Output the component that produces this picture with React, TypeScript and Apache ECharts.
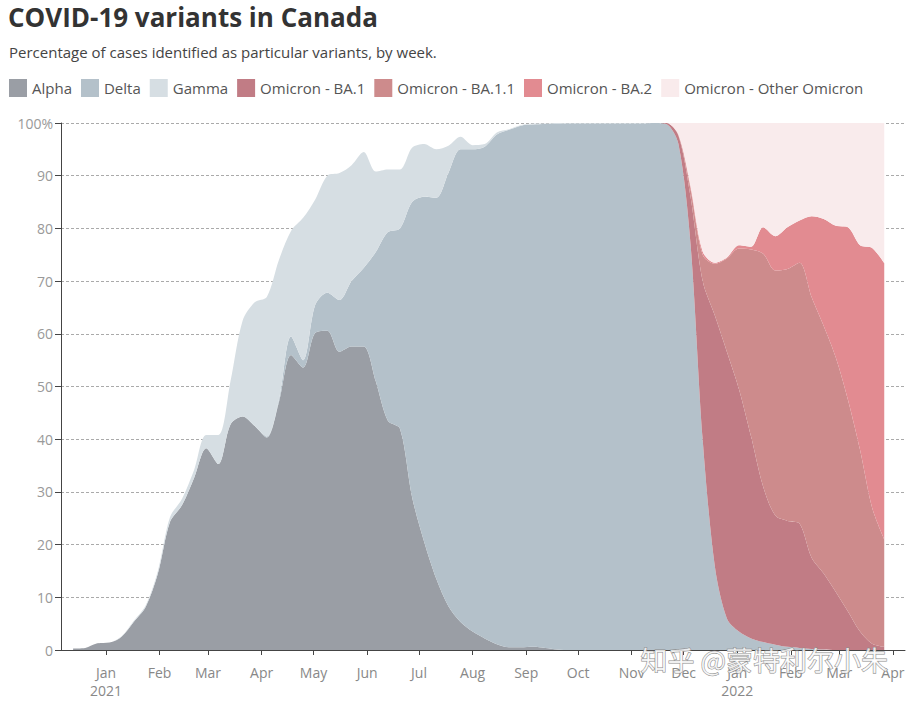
import React, { useEffect, useRef } from "react";
import * as echarts from "echarts";

const weeks: string[] = [
  "2020-12-13", "2020-12-20", "2020-12-27", "2021-01-03", "2021-01-10", "2021-01-17", "2021-01-24", "2021-01-31",
  "2021-02-07", "2021-02-14", "2021-02-21", "2021-02-28", "2021-03-07", "2021-03-14", "2021-03-21", "2021-03-28",
  "2021-04-04", "2021-04-11", "2021-04-18", "2021-04-25", "2021-05-02", "2021-05-09", "2021-05-16", "2021-05-23",
  "2021-05-30", "2021-06-06", "2021-06-13", "2021-06-20", "2021-06-27", "2021-07-04", "2021-07-11", "2021-07-18",
  "2021-07-25", "2021-08-01", "2021-08-08", "2021-08-15", "2021-08-22", "2021-08-29", "2021-09-05", "2021-09-12",
  "2021-09-19", "2021-09-26", "2021-10-03", "2021-10-10", "2021-10-17", "2021-10-24", "2021-10-31", "2021-11-07",
  "2021-11-14", "2021-11-21", "2021-11-28", "2021-12-05", "2021-12-12", "2021-12-19", "2021-12-26", "2022-01-02",
  "2022-01-09", "2022-01-16", "2022-01-23", "2022-01-30", "2022-02-06", "2022-02-13", "2022-02-20", "2022-02-27",
  "2022-03-06", "2022-03-13", "2022-03-20", "2022-03-27",
];

const alpha: number[] = [
  0.3, 0.4, 1.3, 1.4, 2.5, 5.3, 8.2, 14.5, 24.3, 27.5, 32.7, 38.3, 35.3, 42.8, 44.3, 42.5,
  40.3, 47, 56, 53.6, 60.2, 60.6, 56.6, 57.6, 57.6, 51, 43.5, 42, 29, 20.5, 13.5, 8.3,
  5.3, 3.5, 2.2, 1.1, 0.5, 0.5, 0.6, 0.4, 0.1, 0, 0, 0, 0, 0, 0, 0,
  0, 0, 0, 0, 0, 0, 0, 0, 0, 0, 0, 0, 0, 0, 0, 0,
  0, 0, 0, 0,
];

const delta: number[] = [
  0, 0, 0, 0, 0, 0, 0, 0, 0, 0, 0, 0, 0, 0, 0, 0,
  0.2, 0.5, 3.5, 1.4, 5.3, 7.2, 9.8, 12.4, 14.9, 24.5, 35.8, 38, 56, 65.5, 72.3, 82.2,
  89.7, 91.5, 93.3, 96.7, 98.2, 99, 99.1, 99.4, 99.7, 99.9, 99.9, 99.9, 99.9, 99.9, 99.9, 99.9,
  100, 99.8, 96, 77, 40, 16, 6, 3.5, 2.2, 1.5, 1, 0.6, 0.4, 0.2, 0.1, 0,
  0, 0, 0, 0,
];

const gamma: number[] = [
  0, 0, 0, 0, 0.1, 0.2, 0.3, 0.5, 0.9, 1.2, 1.5, 2.5, 5.5, 8.2, 18.2, 23.5,
  26.5, 26.5, 20, 27, 20, 22.2, 24.1, 22, 22, 15.3, 11.9, 11.2, 10.3, 10, 9.2, 5.2,
  2.4, 0.8, 0.5, 0.4, 0.1, 0.1, 0.2, 0.1, 0.2, 0.1, 0.1, 0.1, 0.1, 0.1, 0.1, 0.1,
  0, 0, 0, 0, 0, 0, 0, 0, 0, 0, 0, 0, 0, 0, 0, 0,
  0, 0, 0, 0,
];

const ba1: number[] = [
  0, 0, 0, 0, 0, 0, 0, 0, 0, 0, 0, 0, 0, 0, 0, 0,
  0, 0, 0, 0, 0, 0, 0, 0, 0, 0, 0, 0, 0, 0, 0, 0,
  0, 0, 0, 0, 0, 0, 0, 0, 0, 0, 0, 0, 0, 0, 0, 0,
  0, 0.2, 1.6, 9, 30, 47.5, 50.6, 46, 38.3, 29.5, 24.5, 23.9, 23.6, 17.3, 14.4, 11,
  7.3, 3.5, 1.2, 0.6,
];

const ba11: number[] = [
  0, 0, 0, 0, 0, 0, 0, 0, 0, 0, 0, 0, 0, 0, 0, 0,
  0, 0, 0, 0, 0, 0, 0, 0, 0, 0, 0, 0, 0, 0, 0, 0,
  0, 0, 0, 0, 0, 0, 0, 0, 0, 0, 0, 0, 0, 0, 0, 0,
  0, 0, 0.1, 1.5, 5, 9.8, 17.7, 26.7, 35.5, 44.2, 46.5, 47.8, 49.5, 49.5, 47, 44.5,
  40.2, 34.5, 25.8, 20.4,
];

const ba2: number[] = [
  0, 0, 0, 0, 0, 0, 0, 0, 0, 0, 0, 0, 0, 0, 0, 0,
  0, 0, 0, 0, 0, 0, 0, 0, 0, 0, 0, 0, 0, 0, 0, 0,
  0, 0, 0, 0, 0, 0, 0, 0, 0, 0, 0, 0, 0, 0, 0, 0,
  0, 0, 0.1, 0.5, 0.6, 0.2, 0.2, 0.6, 0.5, 5, 6.5, 7.9, 8, 15.3, 20.3, 25,
  32.7, 38.8, 49.3, 52.4,
];

const otherOmicron: number[] = [
  0, 0, 0, 0, 0, 0, 0, 0, 0, 0, 0, 0, 0, 0, 0, 0,
  0, 0, 0, 0, 0, 0, 0, 0, 0, 0, 0, 0, 0, 0, 0, 0,
  0, 0, 0, 0, 0, 0, 0, 0, 0, 0, 0, 0, 0, 0, 0, 0,
  0, 0, 2.2, 12, 24.4, 26.5, 25.5, 23.2, 23.5, 19.8, 21.5, 19.8, 18.5, 17.7, 18.2, 19.5,
  19.8, 23.2, 23.7, 26.6,
];

const seriesNames = [
  "Alpha",
  "Delta",
  "Gamma",
  "Omicron - BA.1",
  "Omicron - BA.1.1",
  "Omicron - BA.2",
  "Omicron - Other Omicron",
];
const seriesColors = ["#9a9ea5", "#b4c1ca", "#d6dee3", "#c17c85", "#cd8b8c", "#e28b91", "#f9ebec"];
const seriesValues = [alpha, delta, gamma, ba1, ba11, ba2, otherOmicron];

const monthNames = ["Jan", "Feb", "Mar", "Apr", "May", "Jun", "Jul", "Aug", "Sep", "Oct", "Nov", "Dec"];

const title = "COVID-19 variants in Canada";
const subtitle = "Percentage of cases identified as particular variants, by week.";
const watermark = "知乎 @蒙特利尔小朱";

function parseDate(s: string): number {
  const [y, m, d] = s.split("-").map(Number);
  return new Date(y, m - 1, d).getTime();
}

export default function App() {
  const ref = useRef<HTMLDivElement>(null);

  useEffect(() => {
    if (!ref.current) return;
    const chart = echarts.init(ref.current, undefined, { renderer: "svg" });
    const times = weeks.map(parseDate);
    const font = "'Open Sans', 'Noto Sans', sans-serif";

    const option: any = {
      animation: false,
      textStyle: { fontFamily: font },
      title: [
        {
          text: title,
          left: 8,
          top: 3,
          padding: 0,
          textStyle: { fontSize: 26, fontWeight: "bold", color: "#333", fontFamily: font, lineHeight: 28 },
        },
        {
          text: subtitle,
          left: 9,
          top: 44,
          padding: 0,
          textStyle: { fontSize: 15, fontWeight: "normal", color: "#444", fontFamily: font },
        },
      ],
      legend: {
        left: 9,
        top: 79,
        padding: 0,
        itemWidth: 18,
        itemHeight: 18,
        itemGap: 9,
        icon: "rect",
        selectedMode: false,
        textStyle: { fontSize: 15, color: "#555", fontFamily: font, padding: [0, 0, 0, 0] },
        data: seriesNames,
      },
      grid: { left: 61, right: 3, top: 123, bottom: 52, containLabel: false },
      xAxis: {
        type: "time",
        min: new Date(2020, 11, 6).getTime(),
        max: new Date(2022, 3, 8).getTime(),
        minInterval: 28 * 86400000,
        maxInterval: 31 * 86400000,
        splitNumber: 16,
        axisLine: { show: true, lineStyle: { color: "#444", width: 1 } },
        axisTick: { show: true, length: 5, lineStyle: { color: "#444" } },
        splitLine: { show: false },
        axisLabel: {
          color: "#888",
          fontSize: 14,
          margin: 13,
          lineHeight: 18,
          fontFamily: font,
          hideOverlap: false,
          formatter: (val: number) => {
            const d = new Date(val);
            const m = monthNames[d.getMonth()];
            return d.getMonth() === 0 ? m + "\n" + d.getFullYear() : m;
          },
        },
      },
      yAxis: {
        type: "value",
        min: 0,
        max: 100,
        interval: 10,
        axisLine: { show: true, lineStyle: { color: "#444", width: 1 } },
        axisTick: { show: true, length: 6, lineStyle: { color: "#444" } },
        axisLabel: {
          color: "#999",
          fontSize: 14,
          margin: 8,
          fontFamily: font,
          formatter: (v: number) => (v === 100 ? "100%" : String(v)),
        },
        splitLine: { show: true, lineStyle: { color: "#aaa", type: [3, 2], width: 1 } },
      },
      series: seriesNames.map((name, k) => ({
        name,
        type: "line",
        stack: "total",
        smooth: 0.3,
        symbol: "none",
        showSymbol: false,
        silent: true,
        lineStyle: { width: 0, color: seriesColors[k] },
        itemStyle: { color: seriesColors[k] },
        areaStyle: { color: seriesColors[k], opacity: 1 },
        emphasis: { disabled: true },
        data: times.map((t, i) => [t, seriesValues[k][i]]),
        z: 2,
      })),
      graphic: [
        {
          type: "text",
          left: 640,
          top: 645,
          z: 100,
          style: {
            text: watermark,
            fontSize: 27,
            fontFamily: "'Noto Sans CJK SC', sans-serif",
            fill: "rgba(255,255,255,0.8)",
            stroke: "#8a8a8a",
            lineWidth: 1,
          },
        },
      ],
    };

    chart.setOption(option);
    return () => chart.dispose();
  }, []);

  return (
    <div
      ref={ref}
      style={{ position: "fixed", left: 0, top: 0, width: 908, height: 702, background: "#fff" }}
    />
  );
}
